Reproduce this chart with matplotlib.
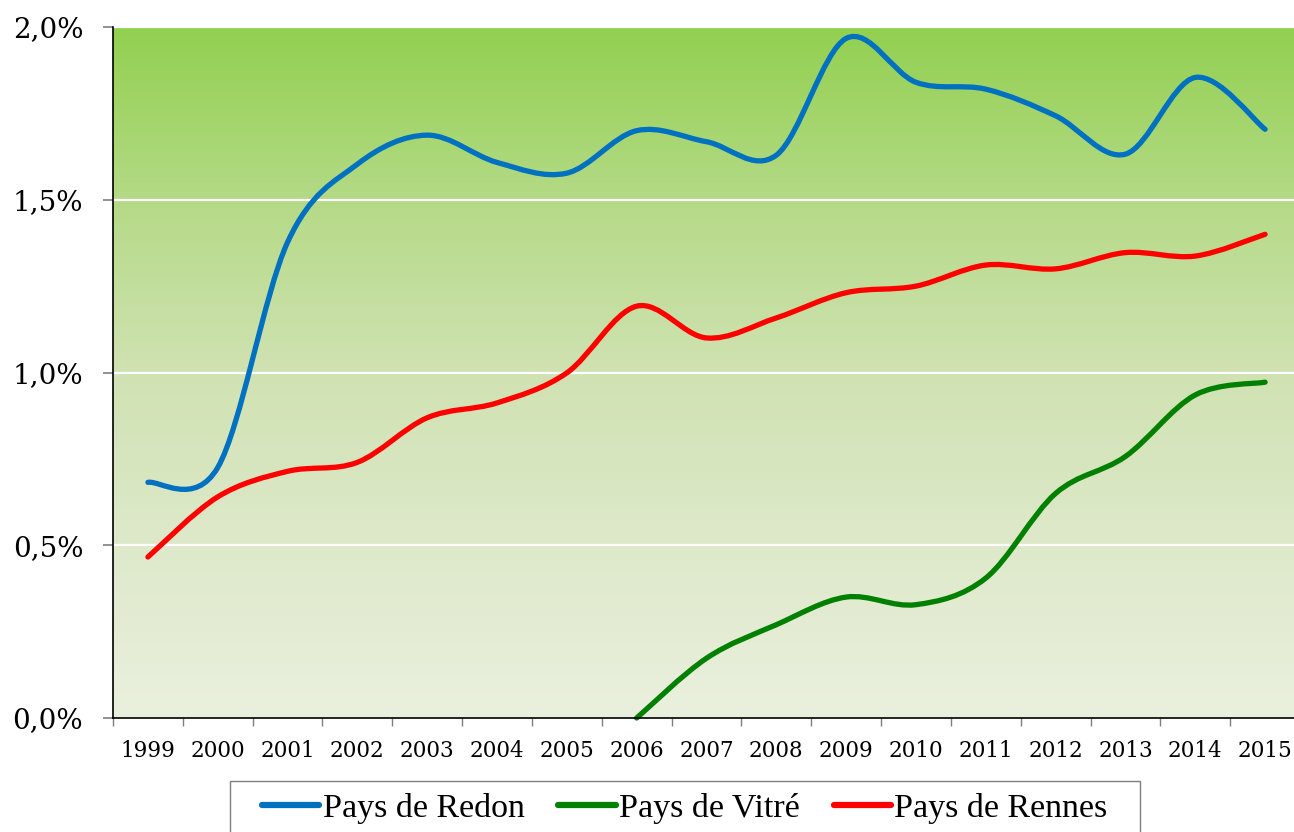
import numpy as np
import matplotlib
matplotlib.use("Agg")
import matplotlib.pyplot as plt
from matplotlib.path import Path
from matplotlib.patches import PathPatch, Rectangle
from matplotlib.lines import Line2D
from matplotlib.ticker import FixedLocator, FuncFormatter

years = ["1999", "2000", "2001", "2002", "2003", "2004", "2005", "2006", "2007",
         "2008", "2009", "2010", "2011", "2012", "2013", "2014", "2015"]
redon = [0.682, 0.725, 1.377, 1.603, 1.687, 1.608, 1.577, 1.700, 1.668,
         1.629, 1.967, 1.840, 1.820, 1.743, 1.632, 1.854, 1.704]
vitre = [np.nan, np.nan, np.nan, np.nan, np.nan, np.nan, np.nan, 0.0, 0.173,
         0.270, 0.350, 0.328, 0.405, 0.650, 0.757, 0.935, 0.972]
rennes = [0.466, 0.640, 0.714, 0.740, 0.869, 0.912, 0.999, 1.192, 1.100,
          1.158, 1.231, 1.250, 1.311, 1.300, 1.347, 1.337, 1.400]
series_names = ["Pays de Redon", "Pays de Vitré", "Pays de Rennes"]
series_colors = ["#0070C0", "#008000", "#FF0000"]
y_ticks = [0.0, 0.5, 1.0, 1.5, 2.0]

W, H = 1294, 832
fig = plt.figure(figsize=(W / 100, H / 100), dpi=100)
left, right, top, bottom = 113, 1300, 27, 718
ax = fig.add_axes([left / W, (H - bottom) / H, (right - left) / W, (bottom - top) / H])

n = len(years)
ax.set_xlim(-0.5, n - 0.5)
ax.set_ylim(0, 2.0)

# gradient background
stops_v = [0.0, 0.5, 1.0, 1.5, 2.0]
stops_c = np.array([(234, 240, 222), (222, 233, 202), (208, 226, 178),
                    (180, 218, 134), (146, 208, 80)]) / 255.0
vv = np.linspace(2.0, 0.0, 400)
grad = np.stack([np.interp(vv, stops_v, stops_c[:, k]) for k in range(3)], axis=-1)
grad = grad[:, None, :]
ax.imshow(grad, extent=(-0.5, n - 0.5, 0, 2.0), aspect="auto", zorder=0,
          interpolation="bilinear")

for yv in y_ticks[1:]:
    ax.axhline(yv, color="white", lw=1.6, zorder=1)


def smooth_path(xs, ys):
    pts = np.column_stack([xs, ys])
    m = len(pts)
    verts = [pts[0]]
    codes = [Path.MOVETO]
    for i in range(m - 1):
        p0 = pts[i - 1] if i > 0 else pts[i]
        p1 = pts[i]
        p2 = pts[i + 1]
        p3 = pts[i + 2] if i + 2 < m else pts[i + 1]
        c1 = p1 + (p2 - p0) / 6.0
        c2 = p2 - (p3 - p1) / 6.0
        verts += [c1, c2, p2]
        codes += [Path.CURVE4] * 3
    return Path(verts, codes)


for vals, col in zip([redon, vitre, rennes], series_colors):
    arr = np.array(vals, dtype=float)
    xs = np.arange(n, dtype=float)
    ok = ~np.isnan(arr)
    patch = PathPatch(smooth_path(xs[ok], arr[ok]), fill=False, edgecolor=col,
                      lw=3.8, capstyle="round", joinstyle="round", zorder=3,
                      clip_on=False)
    ax.add_patch(patch)

# spines
for s in ["top", "right"]:
    ax.spines[s].set_visible(False)
for s in ["left", "bottom"]:
    ax.spines[s].set_color("black")
    ax.spines[s].set_linewidth(1.2)
    ax.spines[s].set_zorder(4)

serif = ["DejaVu Serif"]
ax.set_yticks(y_ticks)
ax.yaxis.set_major_formatter(FuncFormatter(lambda v, p: f"{v:.1f}".replace(".", ",") + "%"))
ax.tick_params(axis="y", direction="out", length=7.5, width=1.2, color="#7f7f7f",
               pad=14, labelsize=20)

ax.xaxis.set_major_locator(FixedLocator(np.arange(n + 1) - 0.5))
ax.xaxis.set_minor_locator(FixedLocator(np.arange(n)))
ax.xaxis.set_major_formatter(FuncFormatter(lambda v, p: ""))
ax.xaxis.set_minor_formatter(FuncFormatter(lambda v, p: years[int(round(v))] if 0 <= int(round(v)) < n else ""))
ax.tick_params(axis="x", which="major", direction="out", length=6, width=1.0, color="#7f7f7f")
ax.tick_params(axis="x", which="minor", length=0, pad=16, labelsize=15.5)
for lab in ax.get_yticklabels() + ax.get_xticklabels(minor=True):
    lab.set_family(serif)

# legend frame (drawn in figure pixels, partly cut by the bottom edge)
fig.patches.append(Rectangle((230 / W, -20 / H), (1140 - 230) / W, (832 - 781 + 20) / H,
                             transform=fig.transFigure, fill=False,
                             edgecolor="#7f7f7f", lw=1.0))

handles = [Line2D([], [], color=c, lw=4.5, solid_capstyle="round") for c in series_colors]
leg = fig.legend(handles, series_names, loc="center left", ncol=3,
                 bbox_to_anchor=(262 / W, (H - 808) / H), bbox_transform=fig.transFigure,
                 frameon=False, prop={"family": ["Liberation Serif"], "size": 24.5},
                 handlelength=1.68, handletextpad=0.1, columnspacing=1.0,
                 borderpad=0, borderaxespad=0)

fig.savefig("out.png", dpi=100)
